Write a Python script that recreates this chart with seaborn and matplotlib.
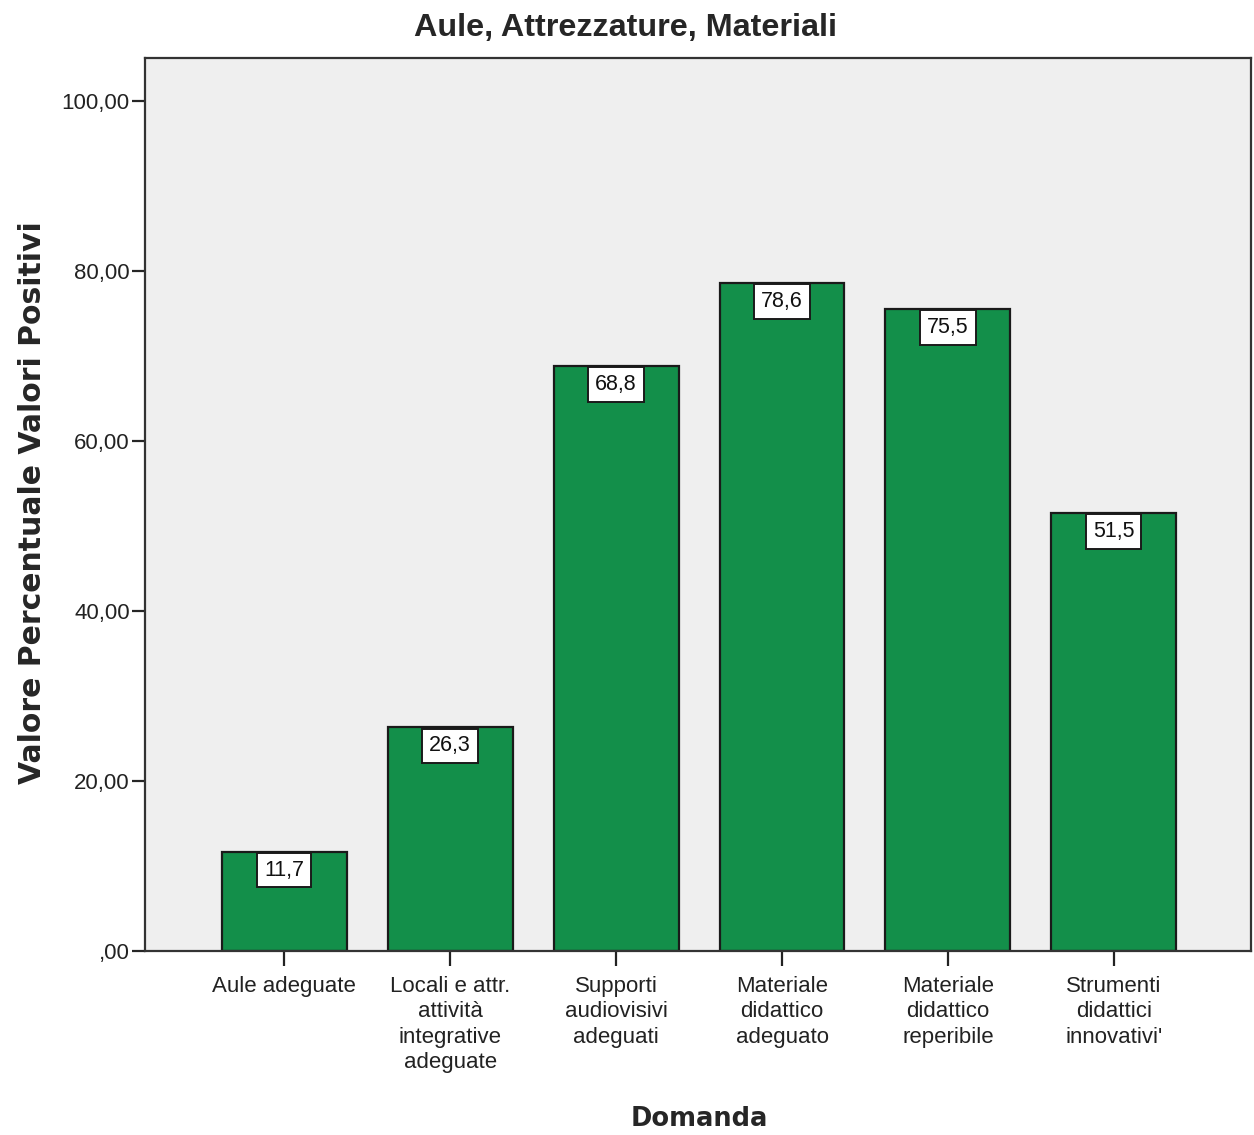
import pandas as pd
import numpy as np
import seaborn as sb
import matplotlib.pyplot as plt

domande = ['Aule adeguate',
           'Locali e attr.\nattività\nintegrative\nadeguate',
           'Supporti\naudiovisivi\nadeguati',
           'Materiale\ndidattico\nadeguato',
           'Materiale\ndidattico\nreperibile',
           "Strumenti\ndidattici\ninnovativi'"]
valori = [11.7, 26.3, 68.8, 78.6, 75.5, 51.5]
ytick_vals = [0, 20, 40, 60, 80, 100]
ytick_labels = [',00', '20,00', '40,00', '60,00', '80,00', '100,00']

data = pd.DataFrame({'Domanda': domande, 'Valore': valori})

sb.set_style('ticks')
plt.rcParams['font.family'] = ['Liberation Sans', 'DejaVu Sans']

fig = plt.figure(figsize=(12.54, 11.35), dpi=100)
ax = fig.add_axes([0.1156, 0.1621, 0.8824, 0.7869])
ax.set_facecolor('#EFEFEF')

sb.barplot(data=data, x='Domanda', y='Valore', color='#138F4A', saturation=1,
           width=0.753, edgecolor='#1a1a1a', linewidth=1.6, ax=ax)

for i, v in enumerate(valori):
    ax.annotate(str(v).replace('.', ','), xy=(i, v), xytext=(0, -5.8),
                textcoords='offset points', ha='center', va='top',
                fontsize=15.5, color='#111111',
                bbox=dict(boxstyle='square,pad=0.32', fc='white', ec='#1a1a1a', lw=1.4))

ax.set_xlim(-0.84, 5.83)
ax.set_ylim(0, 105.06)
ax.set_yticks(ytick_vals)
ax.set_yticklabels(ytick_labels, fontsize=16, color='#222222')
ax.tick_params(axis='x', labelsize=16, colors='#222222', length=11, width=1.6, pad=7)
ax.tick_params(axis='y', length=9.5, width=1.6, pad=1.5)
for lbl in ax.get_xticklabels():
    lbl.set_linespacing(1.27)
for s in ax.spines.values():
    s.set_color('#333333')
    s.set_linewidth(1.6)

ax.set_xlabel('Domanda', fontsize=18.5, fontweight='bold', family='DejaVu Sans')
ax.xaxis.set_label_coords(0.501, -0.1736)
ax.set_ylabel('Valore Percentuale Valori Positivi', fontsize=21.5, fontweight='bold',
              family='DejaVu Sans')
ax.yaxis.set_label_coords(-0.0884, 0.502)
ax.set_title('Aule, Attrezzature, Materiali', fontsize=23.3, fontweight='bold',
             x=0.4345, pad=15.5)

plt.savefig('out.png', dpi=100)
